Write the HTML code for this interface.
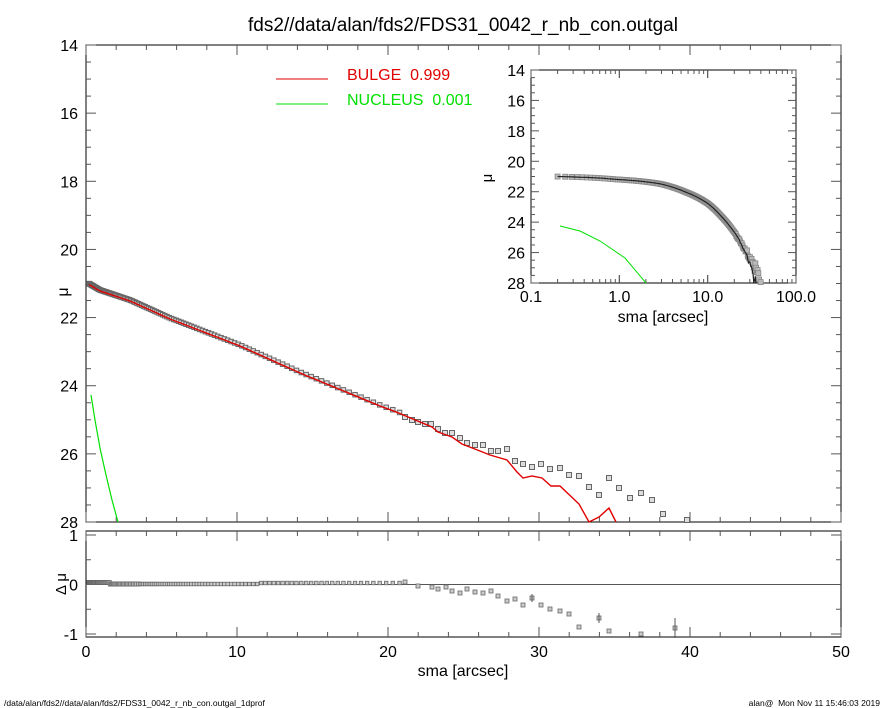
<!DOCTYPE html>
<html><head><meta charset="utf-8"><style>
body{margin:0;background:#fff}
svg{display:block;font-family:"Liberation Sans",sans-serif}
</style></head><body>
<svg id="s" width="885" height="708" xmlns="http://www.w3.org/2000/svg">
<rect width="885" height="708" fill="#fff"/>
<text x="463" y="31" font-size="19" text-anchor="middle">fds2//data/alan/fds2/FDS31_0042_r_nb_con.outgal</text>
<g id="g"></g>
<text x="4" y="706" font-size="8.5">/data/alan/fds2//data/alan/fds2/FDS31_0042_r_nb_con.outgal_1dprof</text>
<text x="880" y="706" font-size="8.5" text-anchor="end" xml:space="preserve">alan@  Mon Nov 11 15:46:03 2019</text>
</svg>
<script>
var g=document.getElementById('g'),h='';
function L(x1,y1,x2,y2,c,w){h+='<line x1="'+x1+'" y1="'+y1+'" x2="'+x2+'" y2="'+y2+'" stroke="'+(c||'#000')+'" stroke-width="'+(w||1)+'"/>';}
function T(x,y,t,s,a,c,rot){h+='<text x="'+x+'" y="'+y+'" font-size="'+s+'" text-anchor="'+(a||'middle')+'" fill="'+(c||'#000')+'"'+(rot?' transform="rotate(-90 '+x+' '+y+')"':'')+' xml:space="preserve">'+t+'</text>';}
function P(pts,c,w){h+='<polyline fill="none" stroke="'+c+'" stroke-width="'+(w||1.3)+'" points="'+pts.map(p=>p[0].toFixed(1)+','+p[1].toFixed(1)).join(' ')+'"/>';}
function Sq(x,y,s){h+='<rect x="'+(x-s/2)+'" y="'+(y-s/2)+'" width="'+s+'" height="'+s+'" fill="#ddd" stroke="#666" stroke-width="1"/>';}
var X0=86,X1=841;function px(r){return X0+r*(X1-X0)/50;}
var Y0=45,Y1=522;function py(m){return Y0+(m-14)*(Y1-Y0)/14;}
h+='<rect x="86" y="45" width="755" height="477" fill="none" stroke="#000"/>';
for(var r=0;r<=50;r+=2){var x=px(r),M=r%10==0;L(x,522,x,522-(M?10:5),'#555');L(x,45,x,45+(M?10:5),'#555');}
for(var m=14;m<=28;m+=0.5){var y=py(m),M=m%2==0;L(86,y,86+(M?10:5),y,'#555');L(841,y,841-(M?10:5),y,'#555');if(M)T(78,y+6,m,16,'end');}
T(68,292,'μ',16,'middle','#000',1);
var RT=531,RB=637;function ry(d){return 584.5-d*49.5;}
h+='<rect x="86" y="531" width="755" height="106" fill="none" stroke="#000"/>';
L(86,584.5,841,584.5,'#555');
for(var r=0;r<=50;r+=2){var x=px(r),M=r%10==0;L(x,637,x,637-(M?10:5),'#555');L(x,531,x,531+(M?10:5),'#555');T(x,657,M?r:'',16);}
[[1,'1'],[0,'0'],[-1,'-1']].forEach(function(a){var y=ry(a[0]);L(86,y,96,y,'#555');L(841,y,831,y,'#555');T(78,y+6,a[1],16,'end');});
for(var d=-0.5;d<=0.5;d+=0.5){if(d!=0){L(86,ry(d),91,ry(d),'#555');L(841,ry(d),836,ry(d),'#555');}}
T(66,584,'Δ μ',15,'middle','#000',1);
T(463,676,'sma [arcsec]',16);
var tab=[[88,283],[100,290],[130,300],[170,318],[240,345],[300,372],[380,405],[399,412],[405,417]];
function ity(x){for(var i=0;i<tab.length-1;i++){if(x<=tab[i+1][0]){var t=(x-tab[i][0])/(tab[i+1][0]-tab[i][0]);return tab[i][1]+t*(tab[i+1][1]-tab[i][1]);}}return tab[tab.length-1][1];}
var pts=[];
var r=0.2;while(r<20.9){var x=px(r);pts.push([x,ity(x)]);r=r*1.02+0.04;}
var outer=[[405,417],[412,420],[418,422],[425,424],[431,424],[438,429],[445,433],[452,433],[460,438],[467,443],[475,445],[483,445],[491,451],[498,451],[507,449],[515,461],[523,464],[532,467],[541,464],[550,469],[560,468],[569,475],[579,476],[589,487],[599,495],[609,478],[619,488],[630,498],[641,493],[652,500],[663,514],[687,520]];
pts.forEach(p=>Sq(p[0],p[1],4.5));
outer.forEach(p=>Sq(p[0],p[1],5));
var red=[];pts.forEach(p=>red.push([p[0],p[1]+1]));
red=red.concat([[432,427],[438,432],[452,437],[462,444],[480,451],[490,455],[507,460],[517,472],[523,478],[532,476],[542,478],[551,486],[560,486],[579,504],[589,522],[599,517],[609,508],[616,522]]);
P(red,'#e00000',1.4);
P([[91,395],[95,420],[100,448],[106,475],[112,500],[118,522]],'#00e000',1.2);
function Rs(x,y,s){s=s||4;h+='<rect x="'+(x-s/2)+'" y="'+(y-s/2)+'" width="'+s+'" height="'+s+'" fill="#ccc" stroke="#666" stroke-width="0.8"/>';}
pts.forEach(function(p){var x=p[0];var y=x<110?582.5:(x<260?584:583);Rs(x,y,x<140?4:3.5);});
[[405,582],[418,586],[432,587],[438,589],[446,587],[452,591],[460,593],[467,589],[475,592],[483,593],[491,591],[498,596],[507,601],[515,599],[523,605],[532,598],[541,605],[550,609],[560,611],[569,614],[579,627],[599,618],[609,631],[641,634],[675,628]].forEach(p=>Rs(p[0],p[1]));
L(599,613,599,623,'#555');L(675,618,675,638,'#555');L(532,594,532,602,'#555');
L(276,79,328,79,'#e00000');T(347,80,'BULGE  0.999',16,'start','#e00000');
L(276,104,328,104,'#00e000');T(347,105,'NUCLEUS  0.001',16,'start','#00e000');
var IX0=531,IX1=796,IY0=70,IY1=283;
function ix(r){return IX0+Math.log10(r/0.1)*(IX1-IX0)/3;}function iy(m){return IY0+(m-14)*(IY1-IY0)/14;}
h+='<rect x="531" y="70" width="265" height="213" fill="#fff" stroke="#000"/>';
for(var dcd=0.1;dcd<100;dcd*=10){for(var k=1;k<=10;k++){var x=ix(dcd*k);if(x>IX1+0.5)continue;var M=(k==1||k==10);L(x,283,x,283-(M?8:4),'#555');L(x,70,x,70+(M?8:4),'#555');}}
[['0.1',0.1],['1.0',1],['10.0',10],['100.0',100]].forEach(a=>T(ix(a[1]),302,a[0],16));
for(var m=14;m<=28;m+=0.5){var y=iy(m),M=m%2==0;L(531,y,531+(M?8:4),y,'#555');L(796,y,796-(M?8:4),y,'#555');if(M)T(525,y+6,m,16,'end');}
T(492,178,'μ',15,'middle','#000',1);
T(663,322,'sma [arcsec]',16);
var all=pts.concat(outer);
var ip=all.map(p=>[ix((p[0]-X0)/15.1),iy(14+(p[1]-Y0)/34.07)]).filter(p=>p[1]<=283);
ip.forEach(p=>{h+='<rect x="'+(p[0]-2.5)+'" y="'+(p[1]-2.5)+'" width="5" height="5" fill="#bbb" stroke="#888" stroke-width="0.8"/>';});
var ir=red.map(p=>[ix((p[0]-X0)/15.1),iy(14+(p[1]-1-Y0)/34.07)]).filter(p=>p[1]<=283);
P(ir,'#222',1.2);
P([[560,226],[580,231],[600,241],[625,258],[646,283]],'#00e000',1);
g.innerHTML=h;
</script>
</body></html>
